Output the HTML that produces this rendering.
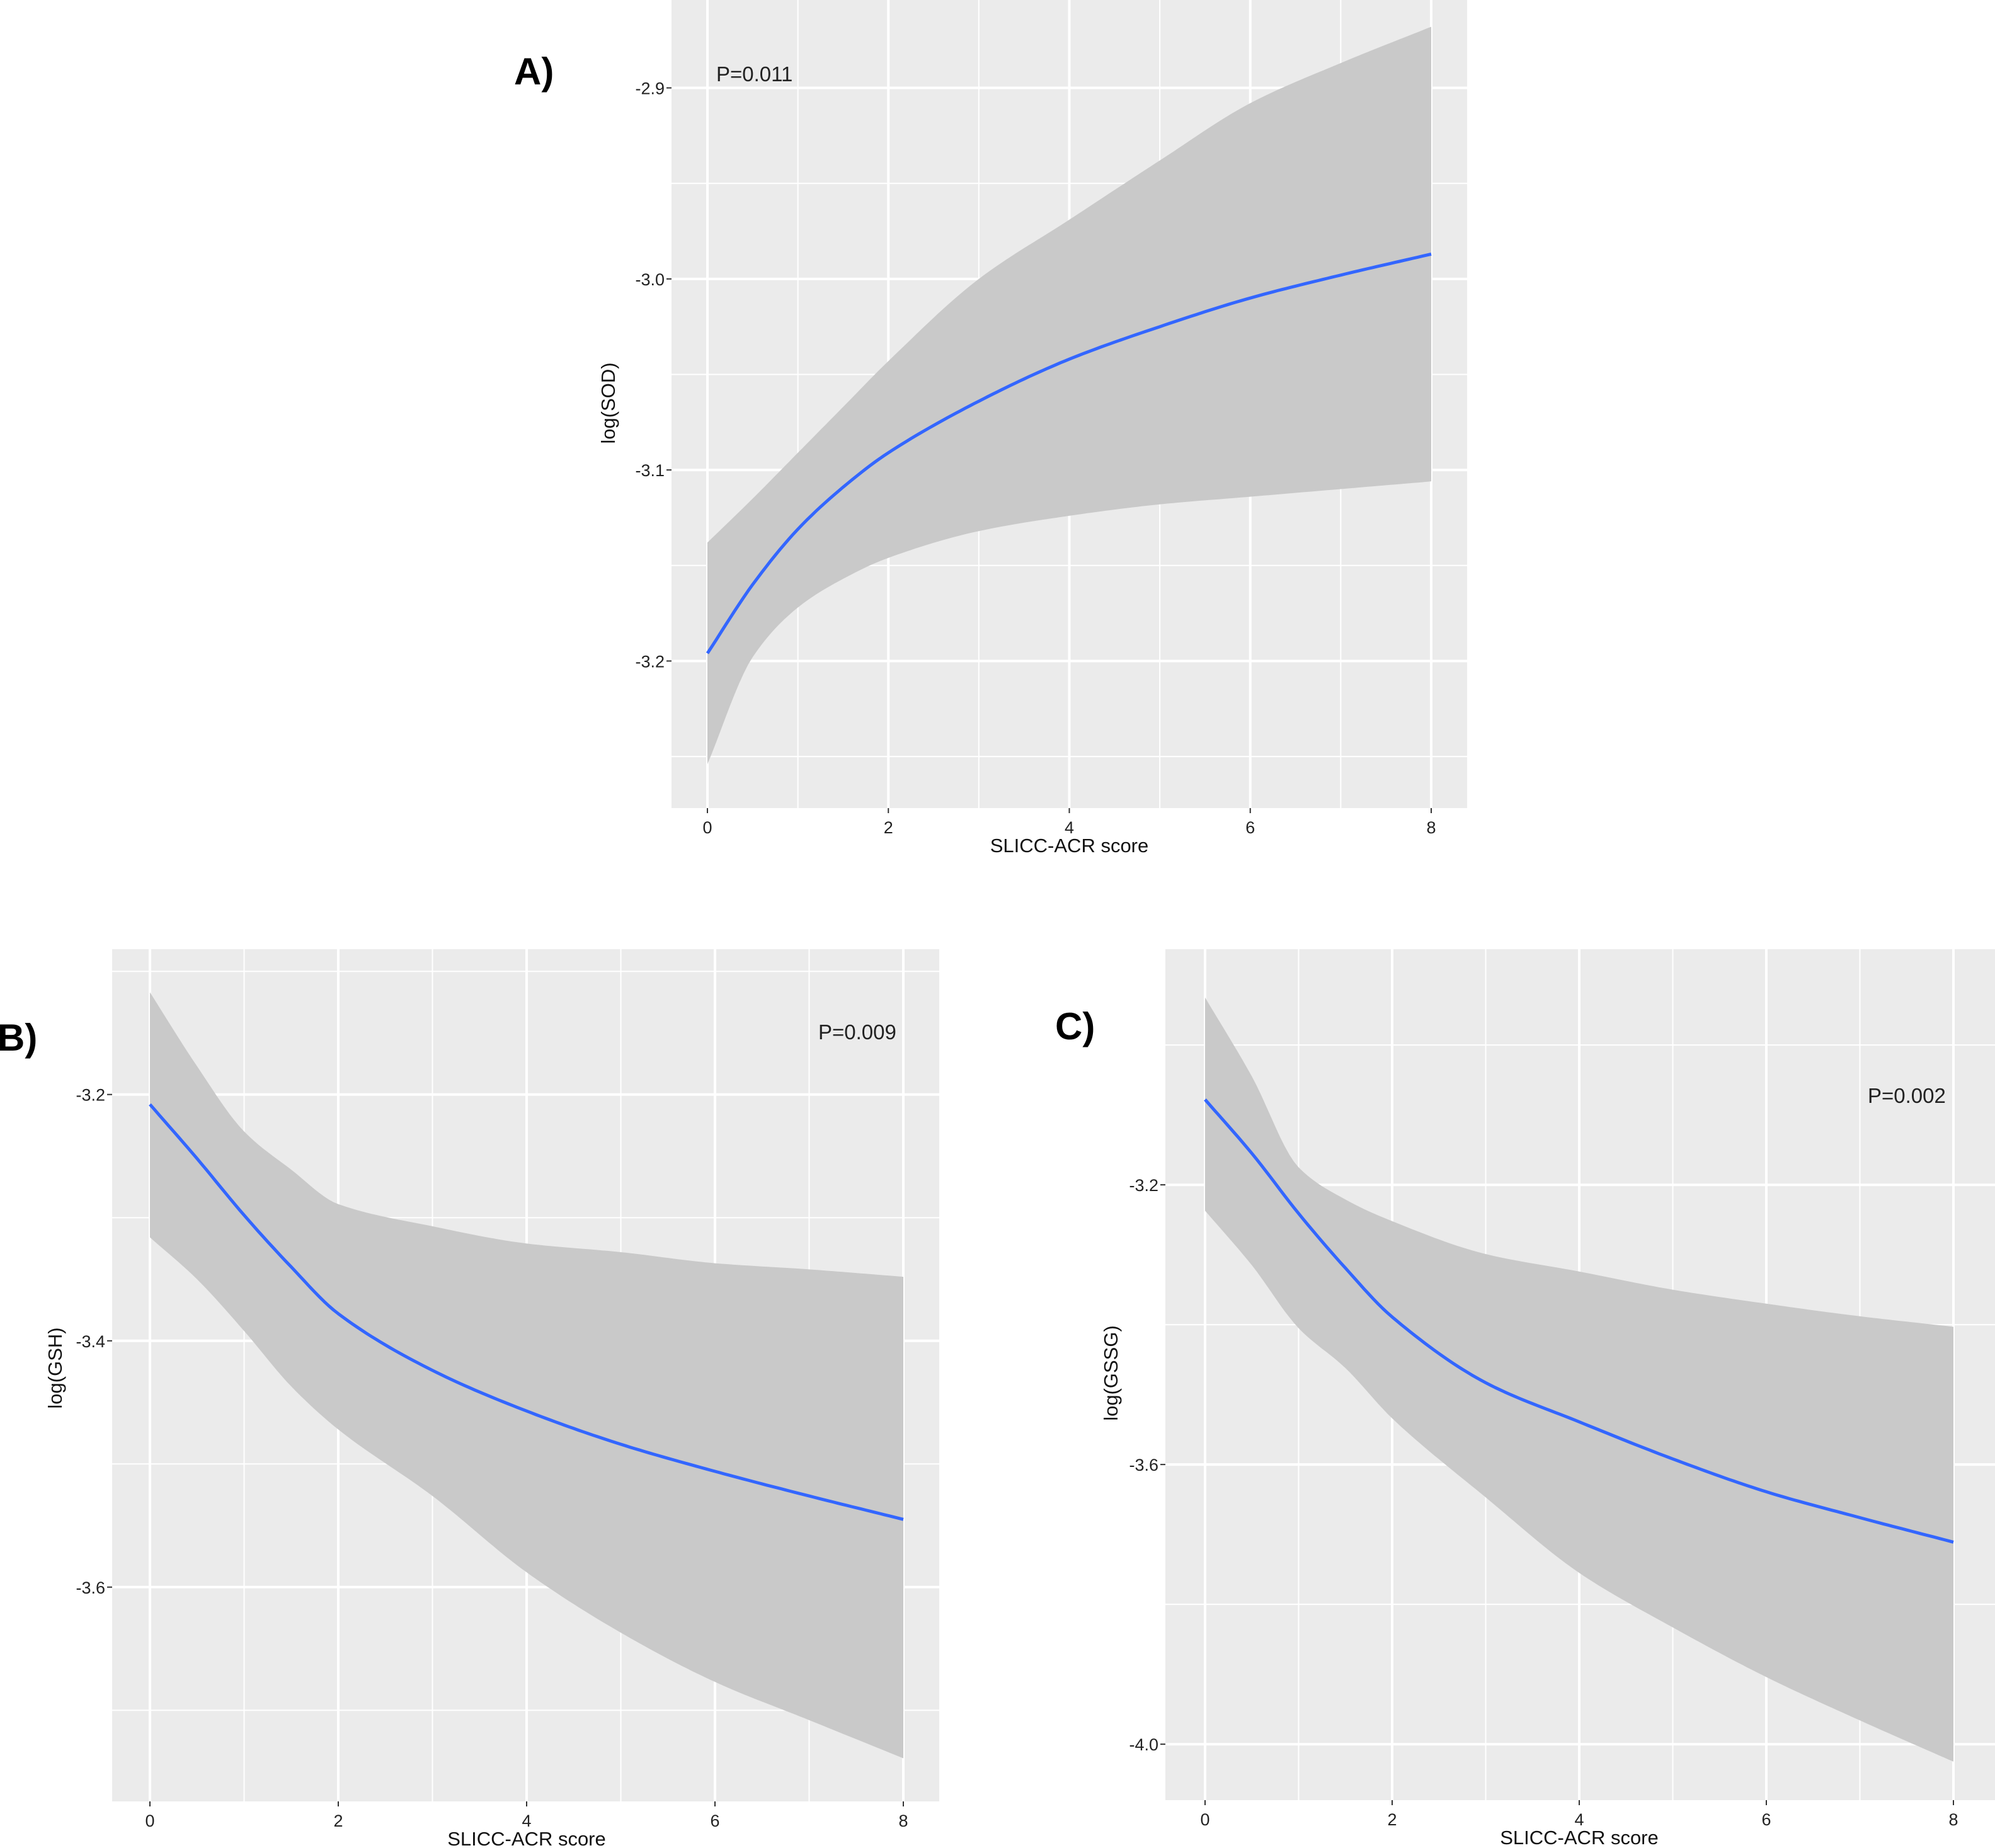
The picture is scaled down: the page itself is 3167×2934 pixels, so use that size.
<!DOCTYPE html>
<html><head><meta charset="utf-8"><style>
html,body{margin:0;padding:0;background:#fff;}
svg{display:block;font-family:"Liberation Sans",Arial,sans-serif;}
</style></head><body>
<svg id="fig" width="3167" height="2934" viewBox="0 0 3167 2934" xmlns="http://www.w3.org/2000/svg">
<text x="816" y="134" font-size="60" font-weight="bold">A)</text>
<text x="-4" y="1668" font-size="60" font-weight="bold">B)</text>
<text x="1675" y="1650" font-size="60" font-weight="bold">C)</text>
</svg>
<script>
// ---- data ----
const xTicks = [0, 2, 4, 6, 8];
const xKnots = [0, 0.5, 1, 1.5, 2, 3, 4, 5, 6, 7, 8];
// Panel A: log(SOD)
const sodFit   = [-3.196, -3.160, -3.131, -3.109, -3.091, -3.064, -3.042, -3.025, -3.010, -2.998, -2.987];
const sodUpper = [-3.138, -3.115, -3.091, -3.067, -3.043, -3.000, -2.969, -2.938, -2.908, -2.887, -2.868];
const sodLower = [-3.254, -3.198, -3.172, -3.157, -3.146, -3.132, -3.124, -3.118, -3.114, -3.110, -3.106];
const sodTicks = [-2.9, -3.0, -3.1, -3.2];
// Panel B: log(GSH)
const gshFit   = [-3.208, -3.252, -3.298, -3.340, -3.378, -3.424, -3.457, -3.484, -3.506, -3.526, -3.545];
const gshUpper = [-3.117, -3.177, -3.230, -3.261, -3.289, -3.307, -3.321, -3.328, -3.337, -3.342, -3.348];
const gshLower = [-3.316, -3.350, -3.392, -3.437, -3.472, -3.526, -3.588, -3.637, -3.677, -3.708, -3.739];
const gshTicks = [-3.2, -3.4, -3.6];
// Panel C: log(GSSG)
const gssgFit   = [-3.078, -3.155, -3.241, -3.319, -3.389, -3.483, -3.539, -3.592, -3.639, -3.676, -3.711];
const gssgUpper = [-2.932, -3.045, -3.175, -3.221, -3.252, -3.299, -3.324, -3.350, -3.370, -3.388, -3.403];
const gssgLower = [-3.237, -3.315, -3.405, -3.462, -3.534, -3.647, -3.755, -3.833, -3.904, -3.966, -4.025];
const gssgTicks = [-3.2, -3.6, -4.0];

const NS = "http://www.w3.org/2000/svg";
const svg = document.getElementById('fig');
function mk(tag, attrs, parent){const e=document.createElementNS(NS,tag);for(const k in attrs)e.setAttribute(k,attrs[k]);(parent||svg).appendChild(e);return e;}

function interp(xs, ys){
  const n=xs.length, d=[], m=new Array(n);
  for(let i=0;i<n-1;i++) d.push((ys[i+1]-ys[i])/(xs[i+1]-xs[i]));
  m[0]=d[0]; m[n-1]=d[n-2];
  for(let i=1;i<n-1;i++) m[i]= d[i-1]*d[i]<=0 ? 0 : 2/(1/d[i-1]+1/d[i]) ;
  return function(x){
    let i=0; while(i<n-2 && x>xs[i+1]) i++;
    const h=xs[i+1]-xs[i], t=(x-xs[i])/h, t2=t*t, t3=t2*t;
    return (2*t3-3*t2+1)*ys[i]+(t3-2*t2+t)*h*m[i]+(-2*t3+3*t2)*ys[i+1]+(t3-t2)*h*m[i+1];
  };
}
function sample(ys, sx, sy){
  const f=interp(xKnots, ys), pts=[];
  for(let k=0;k<=160;k++){const x=8*k/160; pts.push([sx(x),sy(f(x))]);}
  return pts;
}

function panel(o){
  const g = mk('g',{});
  
  
  const sx = v => o.x0 + (v - 0) * (o.x8 - o.x0) / 8;
  const sy = v => o.top + (o.yTop - v) * (o.bottom - o.top) / (o.yTop - o.yBot);
  const bg = mk('rect',{x:o.left,y:o.top,width:o.right-o.left,height:o.bottom-o.top,fill:'#ebebeb'},g);
  
  
  for(let i=0;i<xTicks.length-1;i++){
    const xm=(xTicks[i]+xTicks[i+1])/2;
    const l = mk('line',{x1:sx(xm),x2:sx(xm),y1:o.top,y2:o.bottom,stroke:'#fff','stroke-width':2},g);
    
    
  }
  const step = o.yTicks[0]-o.yTicks[1];
  for(let v=o.yTicks[0]+step/2; v>o.yBot; v-=step){
    if(v>o.yTop) continue;
    const l = mk('line',{x1:o.left,x2:o.right,y1:sy(v),y2:sy(v),stroke:'#fff','stroke-width':2},g);
    
    
  }
  xTicks.forEach(t=>{
    const l = mk('line',{x1:sx(t),x2:sx(t),y1:o.top,y2:o.bottom,stroke:'#fff','stroke-width':4},g);
    
    
    mk('line',{x1:sx(t),x2:sx(t),y1:o.bottom,y2:o.bottom+8,stroke:'#333','stroke-width':2},g);
    const tx = mk('text',{x:sx(t),y:o.bottom+40,'font-size':27,'text-anchor':'middle',fill:'#222'},g);
    tx.textContent=t;
    
    
  });
  o.yTicks.forEach(t=>{
    const l = mk('line',{x1:o.left,x2:o.right,y1:sy(t),y2:sy(t),stroke:'#fff','stroke-width':4},g);
    
    
    mk('line',{x1:o.left-8,x2:o.left,y1:sy(t),y2:sy(t),stroke:'#333','stroke-width':2},g);
    const tx = mk('text',{x:o.left-11,y:sy(t)+10,'font-size':27,'text-anchor':'end',fill:'#222'},g);
    tx.textContent=t.toFixed(1);
    
    
  });
  const up = sample(o.upper, sx, sy);
  const lo = sample(o.lower, sx, sy).reverse();
  const d = "M" + up.concat(lo).map(p=>p[0].toFixed(1)+","+p[1].toFixed(1)).join(" L") + " Z";
  const rib = mk('path',{d:d,fill:'#c9c9c9'},g);
  
  
  const fp = sample(o.fit, sx, sy);
  const fit = mk('path',{d:"M"+fp.map(p=>p[0].toFixed(1)+","+p[1].toFixed(1)).join(" L"),fill:'none',stroke:'#3366ff','stroke-width':5,'stroke-linejoin':'round'},g);
  
  
  const xt = mk('text',{x:(o.x0+o.x8)/2,y:o.bottom+70,'font-size':31,'text-anchor':'middle',fill:'#111'},g);
  xt.textContent='SLICC-ACR score';
  
  
  const yt = mk('text',{x:0,y:0,'font-size':31,'text-anchor':'middle',fill:'#111',transform:`translate(${o.ytx},${o.yty}) rotate(-90)`},g);
  yt.textContent=o.ylab;
  
  
  const p = mk('text',{x:o.px,y:o.py,'font-size':33,fill:'#222'},g);
  p.textContent=o.ptext;
  
  
}

panel({name:'panel-a-sod',left:1066,right:2329,top:0,bottom:1283,x0:1123,x8:2272,yTop:-2.854,yBot:-3.277,
  yTicks:sodTicks,fit:sodFit,upper:sodUpper,lower:sodLower,ylab:'log(SOD)',ytx:976,yty:640,ptext:'P=0.011',px:1137,py:129});
panel({name:'panel-b-gsh',left:178,right:1491,top:1507,bottom:2860,x0:238,x8:1434,yTop:-3.082,yBot:-3.774,
  yTicks:gshTicks,fit:gshFit,upper:gshUpper,lower:gshLower,ylab:'log(GSH)',ytx:98,yty:2172,ptext:'P=0.009',px:1299,py:1650});
panel({name:'panel-c-gssg',left:1850,right:3167,top:1507,bottom:2858,x0:1913,x8:3101,yTop:-2.863,yBot:-4.080,
  yTicks:gssgTicks,fit:gssgFit,upper:gssgUpper,lower:gssgLower,ylab:'log(GSSG)',ytx:1774,yty:2180,ptext:'P=0.002',px:2965,py:1751});
</script>
</body></html>
